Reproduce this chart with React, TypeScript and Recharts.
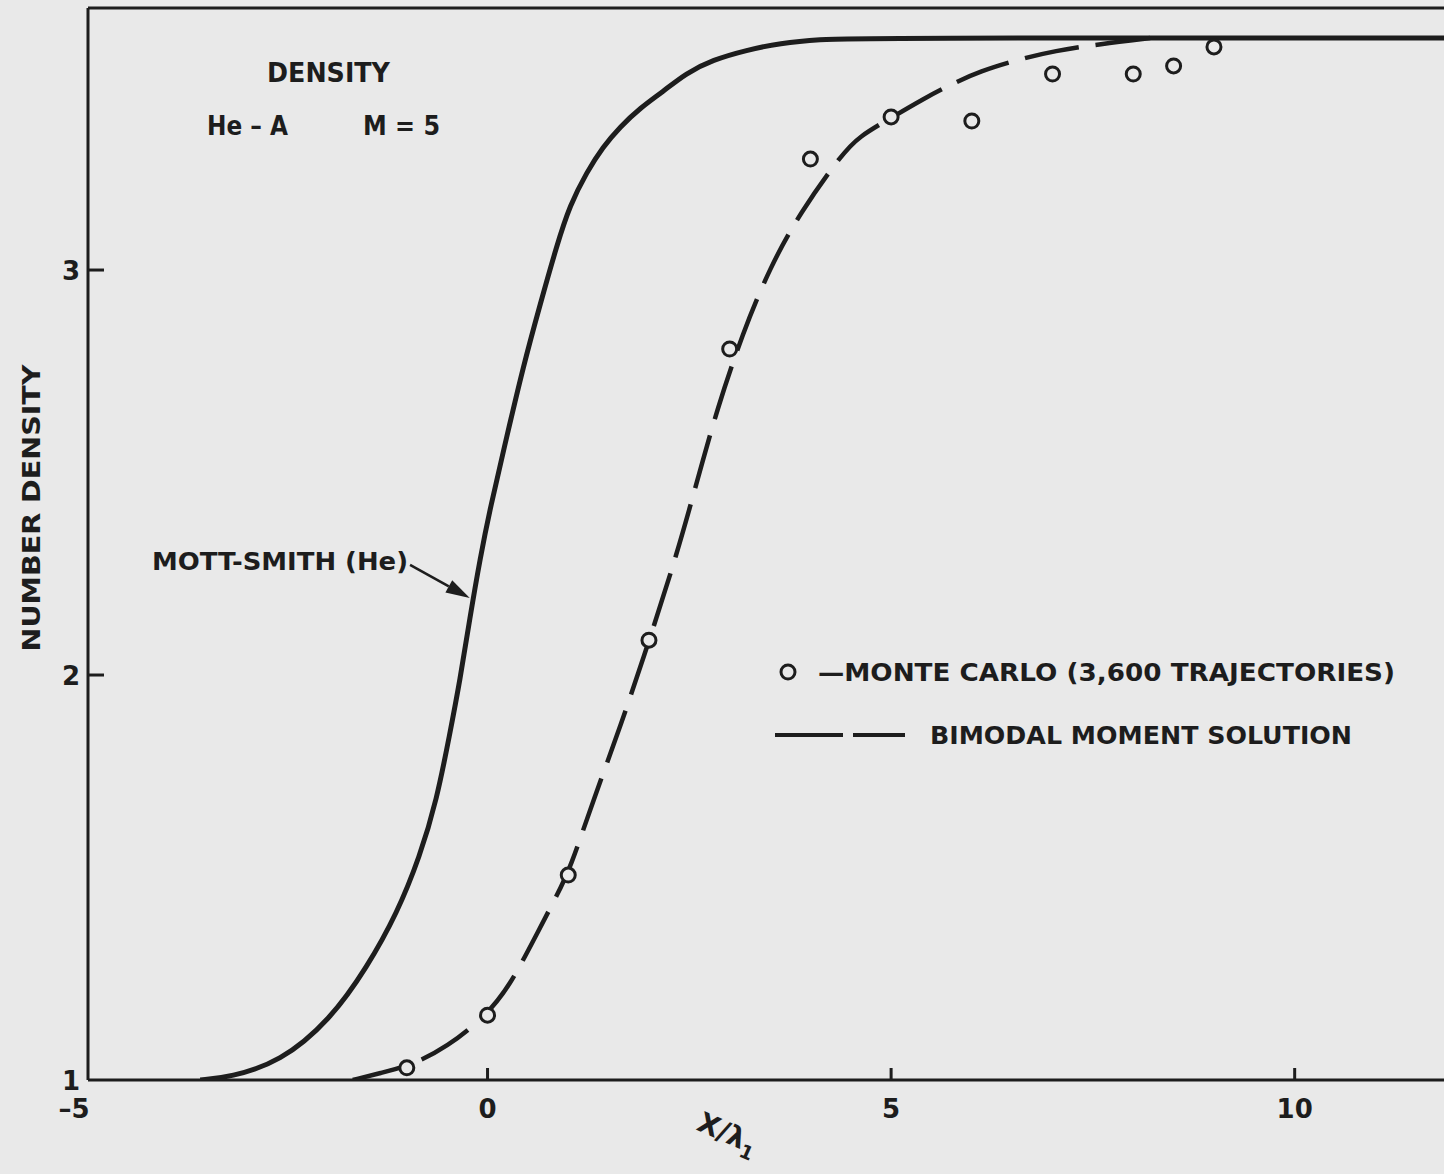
import React from 'react';
import { ComposedChart, Line, Scatter, XAxis, YAxis, ReferenceLine, Legend } from 'recharts';

const INK = '#1d1d1d';
const PAPER = '#e9e9e9';
const FONT = "'DejaVu Sans', sans-serif";

const X_TICKS = [-5, 0, 5, 10];
const Y_TICKS = [1, 2, 3];
const X_DOMAIN = [-4.95, 11.85];
const Y_DOMAIN = [1, 3.647];

// Mott-Smith (He) solid curve
const mottSmithX = [-3.56, -3.19, -2.57, -1.95, -1.49, -1.12, -0.84, -0.63, -0.47, -0.34, -0.22, -0.09, 0.03, 0.24, 0.44, 0.65, 0.86, 1.02, 1.23, 1.43, 1.64, 1.89, 2.17, 2.46, 2.79, 3.21, 3.62, 4.12, 4.61, 11.85];
const mottSmithY = [1.0, 1.007, 1.044, 1.148, 1.279, 1.412, 1.551, 1.691, 1.852, 1.988, 2.14, 2.29, 2.41, 2.59, 2.76, 2.914, 3.062, 3.16, 3.242, 3.304, 3.353, 3.4, 3.44, 3.486, 3.519, 3.543, 3.56, 3.57, 3.573, 3.573];

// bimodal moment solution, dashed
const bimodalX = [-1.67, -1.33, -0.96, -0.5, -0.01, 0.28, 0.56, 0.87, 1.02, 1.31, 1.64, 2.01, 2.35, 2.6, 2.84, 3.16, 3.5, 3.87, 4.4, 4.61, 4.95, 5.42, 5.73, 6.1, 6.6, 7.02, 7.59, 8.22];
const bimodalY = [1.0, 1.017, 1.035, 1.081, 1.16, 1.235, 1.341, 1.46, 1.52, 1.691, 1.869, 2.089, 2.301, 2.481, 2.654, 2.844, 3.007, 3.141, 3.289, 3.33, 3.37, 3.425, 3.457, 3.491, 3.521, 3.541, 3.558, 3.573];

// Monte Carlo (3,600 trajectories)
const monteCarloX = [-1, 0, 1, 2, 3, 4, 5, 6, 7, 8, 8.5, 9];
const monteCarloY = [1.03, 1.16, 1.506, 2.086, 2.805, 3.274, 3.378, 3.368, 3.484, 3.484, 3.504, 3.551];

// arrow from the MOTT-SMITH label to its curve
const arrowFrom = { x: -0.96, y: 2.272 };
const arrowTo = { x: -0.22, y: 2.19 };

const zip = (xs: number[], ys: number[]) => xs.map((x, i) => ({ x, y: ys[i] }));

const mottSmith = zip(mottSmithX, mottSmithY);
const bimodal = zip(bimodalX, bimodalY);
const monteCarlo = zip(monteCarloX, monteCarloY);

const textStyle = { fontFamily: FONT, fontWeight: 700, fill: INK };

const XTick = (props: any) => {
  const { x, y, payload } = props;
  const v = payload.value;
  const lx = v === -5 ? 74 : x;
  return (
    <g>
      {v !== -5 && <line x1={x} y1={y} x2={x} y2={y - 12} stroke={INK} strokeWidth={3} />}
      <text x={lx} y={y + 38} textAnchor="middle" fontSize={26} {...textStyle}>
        {v === -5 ? '–5' : String(v)}
      </text>
    </g>
  );
};

const YTick = (props: any) => {
  const { x, y, payload } = props;
  const v = payload.value;
  return (
    <g>
      {v !== 1 && <line x1={x} y1={y} x2={x + 16} y2={y} stroke={INK} strokeWidth={3} />}
      <text x={x - 17} y={y + 10} textAnchor="middle" fontSize={26} {...textStyle}>
        {String(v)}
      </text>
    </g>
  );
};

const Ring = (props: any) => {
  const { cx, cy } = props;
  return <circle cx={cx} cy={cy} r={7} fill={PAPER} stroke={INK} strokeWidth={3} />;
};

const Arrow = (props: any) => {
  const { x1, y1, x2, y2 } = props;
  const dx = x2 - x1;
  const dy = y2 - y1;
  const len = Math.hypot(dx, dy) || 1;
  const ux = dx / len;
  const uy = dy / len;
  const bx = x2 - ux * 24;
  const by = y2 - uy * 24;
  return (
    <g>
      <line x1={x1} y1={y1} x2={bx} y2={by} stroke={INK} strokeWidth={2.5} />
      <polygon
        points={`${x2},${y2} ${bx - uy * 7},${by + ux * 7} ${bx + uy * 7},${by - ux * 7}`}
        fill={INK}
      />
    </g>
  );
};

const LegendBox = () => (
  <svg width={680} height={120}>
    <circle cx={18} cy={32} r={7} fill="none" stroke={INK} strokeWidth={3} />
    <text x={48} y={41} fontSize={24} textLength={577} lengthAdjust="spacingAndGlyphs" {...textStyle}>
      —MONTE CARLO (3,600 TRAJECTORIES)
    </text>
    <line x1={5} y1={95} x2={135} y2={95} stroke={INK} strokeWidth={4} strokeDasharray="68 10" />
    <text x={160} y={104} fontSize={24} textLength={422} lengthAdjust="spacingAndGlyphs" {...textStyle}>
      BIMODAL MOMENT SOLUTION
    </text>
  </svg>
);

export default function App() {
  return (
    <div style={{ position: 'absolute', left: 0, top: 0, width: 1444, height: 1174, background: PAPER, overflow: 'hidden' }}>
      <ComposedChart width={1444} height={1174} margin={{ top: 8, right: 0, bottom: 0, left: 0 }}>
        <XAxis
          type="number"
          dataKey="x"
          domain={X_DOMAIN}
          ticks={X_TICKS}
          allowDataOverflow
          height={94}
          axisLine={{ stroke: INK, strokeWidth: 3 }}
          tickLine={false}
          tickSize={0}
          tickMargin={0}
          tick={<XTick />}
          interval={0}
        />
        <YAxis
          type="number"
          dataKey="y"
          domain={Y_DOMAIN}
          ticks={Y_TICKS}
          allowDataOverflow
          width={88}
          axisLine={{ stroke: INK, strokeWidth: 3 }}
          tickLine={false}
          tickSize={0}
          tickMargin={0}
          tick={<YTick />}
          interval={0}
        />
        <ReferenceLine y={Y_DOMAIN[1]} stroke={INK} strokeWidth={3} />
        <Line
          data={bimodal}
          dataKey="y"
          type="basis"
          stroke={INK}
          strokeWidth={4.5}
          strokeDasharray="55 17"
          dot={false}
          isAnimationActive={false}
        />
        <Line
          data={mottSmith}
          dataKey="y"
          type="basis"
          stroke={INK}
          strokeWidth={5}
          dot={false}
          isAnimationActive={false}
        />
        <Scatter data={monteCarlo} dataKey="y" shape={<Ring />} isAnimationActive={false} />
        <ReferenceLine segment={[arrowFrom, arrowTo]} shape={<Arrow />} ifOverflow="visible" />
        <Legend
          layout="horizontal"
          verticalAlign="middle"
          align="center"
          content={<LegendBox />}
          wrapperStyle={{ position: 'absolute', left: 770, top: 640, width: 680, height: 120 }}
        />
      </ComposedChart>
      <svg
        width={1444}
        height={1174}
        style={{ position: 'absolute', left: 0, top: 0, pointerEvents: 'none' }}
      >
        <text x={267} y={82} fontSize={27} textLength={123} lengthAdjust="spacingAndGlyphs" {...textStyle}>DENSITY</text>
        <text x={207} y={135} fontSize={26} textLength={81} lengthAdjust="spacingAndGlyphs" {...textStyle}>He – A</text>
        <text x={363} y={135} fontSize={26} textLength={77} lengthAdjust="spacingAndGlyphs" {...textStyle}>M = 5</text>
        <text x={152} y={570} fontSize={25} textLength={256} lengthAdjust="spacingAndGlyphs" {...textStyle}>MOTT-SMITH (He)</text>
        <text
          transform="translate(40, 508) rotate(-90)"
          textAnchor="middle"
          fontSize={24}
          textLength={287}
          lengthAdjust="spacingAndGlyphs"
          {...textStyle}
        >
          NUMBER DENSITY
        </text>
        <g transform="translate(724, 1142) rotate(24)">
          <text textAnchor="middle" fontSize={28} {...textStyle}>
            X/λ<tspan fontSize={19} dy={7}>1</tspan>
          </text>
        </g>
      </svg>
    </div>
  );
}
